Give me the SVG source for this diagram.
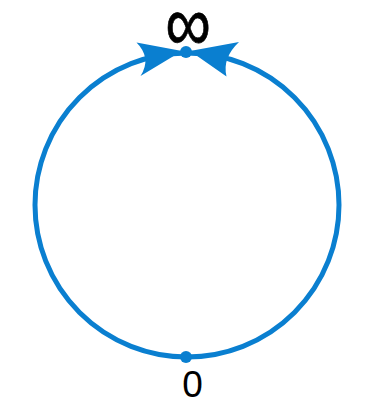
<svg xmlns="http://www.w3.org/2000/svg" width="381" height="405" viewBox="0 0 381 405">
<style>
.c{fill:none;stroke:#0a7fd0;stroke-width:5}
.b{fill:#0a7fd0}
.t{font-family:"Liberation Sans",Arial,sans-serif;fill:#000}
</style>
<rect width="381" height="405" fill="#fff"/>
<g id="connectors">
<circle class="c" cx="187" cy="205" r="152"/>
<path id="arrow-left" class="b" d="M182,51 L136.5,42.5 Q152,58 140.5,76 Z"/>
<path id="arrow-right" class="b" d="M190,51 L239,42 Q222,58 226.5,76.5 Z"/>
</g>
<g id="node-inf">
<circle class="b" cx="186" cy="52" r="6"/>
<text class="t" transform="translate(188,51) scale(1,1.25)" font-size="64" stroke="#000" stroke-width="0.6" text-anchor="middle">∞</text>
</g>
<g id="node-zero">
<circle class="b" cx="186" cy="357" r="6"/>
<text class="t" x="192.5" y="397" font-size="37" text-anchor="middle">0</text>
</g>
</svg>
